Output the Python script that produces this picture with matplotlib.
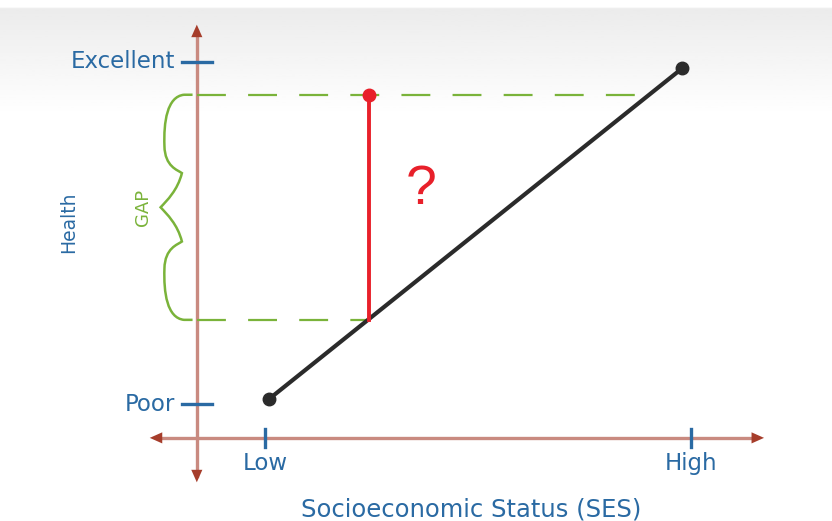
import numpy as np
import matplotlib
matplotlib.use("Agg")
import matplotlib.pyplot as plt
from matplotlib.path import Path
from matplotlib.patches import PathPatch

plt.rcParams["font.family"] = ["DejaVu Sans"]

# conceptual values: SES (Low=0, High=1) and Health (Poor=0, Excellent=1)
ses_ticks = [0.0, 1.0]
ses_labels = ["Low", "High"]
health_ticks = [0.0, 1.0]
health_labels = ["Poor", "Excellent"]

gradient_ses = [0.01, 0.98]
gradient_health = [0.015, 0.982]

target_ses = 0.244
target_health = 0.904
actual_health = 0.246

BLUE = "#2a6aa3"
GREEN = "#7ab33a"
RED = "#e8202a"
AXIS = "#c98a80"
AXIS_HEAD = "#a63d2b"

fig = plt.figure(figsize=(8.32, 5.21), dpi=100)
ax = fig.add_axes([0, 0, 1, 1])
ax.set_xlim(-0.622, 1.331)
ax.set_ylim(-0.342, 1.181)
ax.axis("off")

# soft gray band at the top
rows = np.linspace(0, 1, 200)
shade = np.clip((rows - 0.78) / 0.2, 0, 1) * 0.075
shade[rows > 0.985] = 0
ax.imshow(1 - shade[:, None], cmap="gray", vmin=0, vmax=1, aspect="auto",
          extent=(-0.622, 1.331, -0.342, 1.181), origin="lower", zorder=0)

# axes lines with arrows
x_axis_y = -0.099
y_axis_x = -0.16
ax.plot([-0.25, 1.15], [x_axis_y, x_axis_y], color=AXIS, lw=2.4, zorder=2)
ax.plot([y_axis_x, y_axis_x], [-0.21, 1.09], color=AXIS, lw=2.4, zorder=2)
head = dict(arrowstyle="-|>,head_length=0.9,head_width=0.4", color=AXIS_HEAD, lw=0)
for tip, tail in [((-0.277, x_axis_y), (-0.2, x_axis_y)),
                  ((1.178, x_axis_y), (1.1, x_axis_y)),
                  ((y_axis_x, 1.117), (y_axis_x, 1.05)),
                  ((y_axis_x, -0.237), (y_axis_x, -0.17))]:
    ax.annotate("", xy=tip, xytext=tail, arrowprops=head, zorder=3)

# tick marks and labels
for v, lab in zip(ses_ticks, ses_labels):
    ax.plot([v, v], [x_axis_y + 0.025, x_axis_y - 0.027], color=BLUE, lw=2.4, zorder=3)
    ax.text(v, -0.175, lab, color=BLUE, fontsize=16.5, ha="center", va="center")
for v, lab in zip(health_ticks, health_labels):
    ax.plot([y_axis_x - 0.035, y_axis_x + 0.035], [v, v], color=BLUE, lw=2.4, zorder=3)
    ax.text(y_axis_x - 0.052, v, lab, color=BLUE, fontsize=16.5, ha="right", va="center")

ax.text(0.485, -0.307, "Socioeconomic Status (SES)", color=BLUE, fontsize=17.5,
        ha="center", va="center")
ax.text(-0.462, 0.532, "Health", color=BLUE, fontsize=13.5, rotation=90,
        ha="center", va="center")

# dashed gap guides
dash = (13, 10)
top_end = gradient_ses[0] + (target_health - gradient_health[0]) * \
    (gradient_ses[1] - gradient_ses[0]) / (gradient_health[1] - gradient_health[0])
ax.plot([y_axis_x, top_end], [target_health, target_health], color=GREEN, lw=1.6,
        dashes=dash, zorder=2)
ax.plot([y_axis_x, target_ses], [actual_health, actual_health], color=GREEN, lw=1.6,
        dashes=dash, zorder=2)

# curly brace for the gap
top, bot = target_health, actual_health
mid = (top + bot) / 2
x0 = y_axis_x
verts = [
    (x0 - 0.01, top), (x0 - 0.03, top),
    (x0 - 0.07, top - 0.005), (x0 - 0.078, top - 0.08), (x0 - 0.076, top - 0.15),
    (x0 - 0.075, top - 0.21), (x0 - 0.045, top - 0.22), (x0 - 0.035, mid + 0.1),
    (x0 - 0.045, mid + 0.05), (x0 - 0.07, mid + 0.02), (x0 - 0.085, mid),
    (x0 - 0.07, mid - 0.02), (x0 - 0.045, mid - 0.05), (x0 - 0.035, mid - 0.1),
    (x0 - 0.045, bot + 0.22), (x0 - 0.075, bot + 0.21), (x0 - 0.076, bot + 0.15),
    (x0 - 0.078, bot + 0.08), (x0 - 0.07, bot + 0.005), (x0 - 0.03, bot),
    (x0 - 0.01, bot),
]
codes = [Path.MOVETO, Path.LINETO] + [Path.CURVE4] * 18 + [Path.LINETO]
ax.add_patch(PathPatch(Path(verts, codes), fill=False, edgecolor=GREEN, lw=1.8, zorder=3))
ax.text(-0.286, mid, "GAP", color=GREEN, fontsize=13, rotation=90,
        ha="center", va="center")

# SES gradient line
ax.plot(gradient_ses, gradient_health, color="#2b2b2b", lw=3, marker="o",
        markersize=9, zorder=4)

# the gap: where health would be vs. where it is
ax.plot([target_ses, target_ses], [actual_health, target_health], color=RED, lw=2.8,
        zorder=5)
ax.plot([target_ses], [target_health], "o", color=RED, markersize=9, zorder=5)
ax.text(0.367, 0.625, "?", color=RED, fontsize=40, ha="center", va="center",
        family="Liberation Sans")

fig.savefig("out.png", dpi=100)
